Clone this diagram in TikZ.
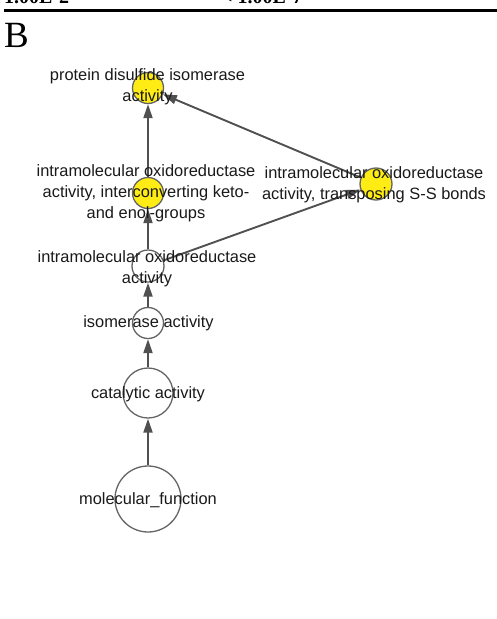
\documentclass[tikz,border=0pt]{standalone}
\usepackage{fontspec}
\setmainfont{Liberation Sans}
\newfontfamily\panelserif{Liberation Serif}
\usetikzlibrary{arrows.meta}
\definecolor{goyellow}{RGB}{255,236,20}
\definecolor{edgegray}{RGB}{80,80,80}
\definecolor{rimgray}{RGB}{100,100,100}
\tikzset{
  term/.style={
    circle,
    draw=rimgray,
    line width=1.3pt,
    fill=white,
    inner sep=0pt
  },
  hit/.style={term, fill=goyellow},
  termlabel/.style={
    align=center,
    inner sep=0pt,
    text=black!90,
    font=\fontsize{16.4}{21}\selectfont
  },
  isa/.style={-{Triangle[length=14pt,width=9pt]}, draw=edgegray, fill=edgegray, line width=1.9pt},
  toprule/.style={line width=3.5pt, black}
}

\begin{document}
\begin{tikzpicture}[x=1pt, y=-1pt]
  \useasboundingbox (0,0) rectangle (497,619);
  % header remains of the table above
  \node[anchor=base west, inner sep=0pt, font=\panelserif\bfseries\fontsize{20}{24}\selectfont] (pvone) at (4,3.5) {1.00E-2};
  \node[anchor=base west, inner sep=0pt, font=\panelserif\bfseries\fontsize{20}{24}\selectfont] (pvtwo) at (221,3.5) {< 1.00E-7};
  \draw[toprule] (4,10.5) -- (497,10.5);
  \node[anchor=base west, inner sep=0pt, font=\panelserif\fontsize{37}{40}\selectfont] (panelB) at (4,47) {B};

  % terms
  \node[hit,  minimum size=31pt] (pdi)  at (148,88)  {};
  \node[hit,  minimum size=31pt] (keto) at (148,193) {};
  \node[hit,  minimum size=32pt] (sss)  at (376,184) {};
  \node[term, minimum size=32pt] (ioa)  at (148,266) {};
  \node[term, minimum size=31pt] (iso)  at (148,323) {};
  \node[term, minimum size=50pt] (cat)  at (148,393) {};
  \node[term, minimum size=66pt] (mf)   at (148,499) {};

  % is_a edges
  \draw[isa] (mf)   to (cat);
  \draw[isa] (cat)  to (iso);
  \draw[isa] (iso)  to (ioa);
  \draw[isa] (ioa)  to (keto);
  \draw[isa] (ioa)  to (sss);
  \draw[isa] (keto) to (pdi);
  \draw[isa] (sss)  to (pdi);

  % labels
  \node[termlabel] (pdiL)  at (147.5,86.5) {protein disulfide isomerase\\activity};
  \node[termlabel] (ketoL) at (146,193)    {intramolecular oxidoreductase\\activity, interconverting keto-\\and enol-groups};
  \node[termlabel] (sssL)  at (374,185)    {intramolecular oxidoreductase\\activity, transposing S-S bonds};
  \node[termlabel] (ioaL)  at (147,268.5)  {intramolecular oxidoreductase\\activity};
  \node[termlabel] (isoL)  at (148.5,323)  {isomerase activity};
  \node[termlabel] (catL)  at (148,394)    {catalytic activity};
  \node[termlabel] (mfL)   at (148,500)    {molecular\_function};
\end{tikzpicture}
\end{document}
